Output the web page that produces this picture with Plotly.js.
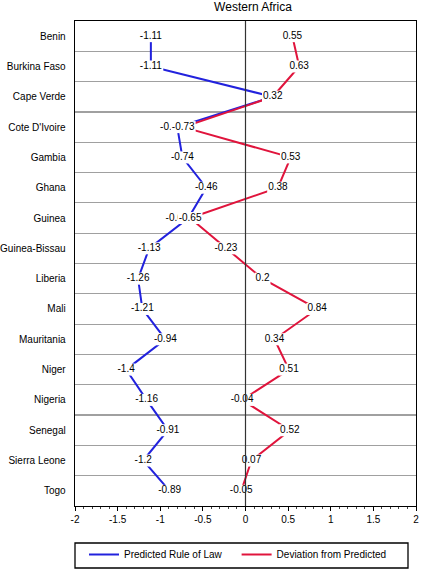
<!DOCTYPE html>
<html>
<head>
<meta charset="utf-8">
<script src="https://cdn.plot.ly/plotly-3.0.1.min.js"></script>
<style>html,body{margin:0;padding:0;background:#fff;}#chart{width:421px;height:571px;}</style>
</head>
<body>
<div id="chart"></div>
<script>
const countries = ["Benin","Burkina Faso","Cape Verde","Cote D'Ivoire","Gambia","Ghana","Guinea","Guinea-Bissau","Liberia","Mali","Mauritania","Niger","Nigeria","Senegal","Sierra Leone","Togo"];
const predicted = [-1.11,-1.11,0.32,-0.8,-0.74,-0.46,-0.67,-1.13,-1.26,-1.21,-0.94,-1.4,-1.16,-0.91,-1.2,-0.89];
const deviation = [0.55,0.63,0.32,-0.73,0.53,0.38,-0.65,-0.23,0.2,0.84,0.34,0.51,-0.04,0.52,0.07,-0.05];
const seriesNames = ["Predicted Rule of Law","Deviation from Predicted"];
const xTicks = [-2,-1.5,-1,-0.5,0,0.5,1,1.5,2];

const BLUE = '#2222dd', RED = '#e0143c';
const FONT = 'Liberation Sans, Arial, sans-serif';
const W = 421, H = 571, ML = 75, MR = 5, MT = 21, MB = 65;
const XR = [-2, 2];
const plotW = W - ML - MR, plotH = H - MT - MB;
const pxPerUnit = plotW / (XR[1] - XR[0]);

function textWidth(s){
  let w = 0;
  for (const c of s){ w += c === '-' ? 3.33 : (c === '.' ? 2.78 : 5.56); }
  return w;
}
// label placement: a predicted label that nearly collides with the deviation label is set to its left
const predPos = predicted.map((v, i) => {
  const d = Math.abs(v - deviation[i]);
  return (d > 0 && d < 0.1) ? 'middle left' : 'middle center';
});
const devPos = deviation.map(() => 'middle center');

// white strips behind value labels so the series lines break around them
function maskTrace(vals, pos){
  const xs = [], ys = [];
  vals.forEach((v, i) => {
    const tw = textWidth(String(v));
    if (pos[i] === 'middle left'){
      xs.push(v - (tw + 1) / pxPerUnit, v + 1 / pxPerUnit, null);
    } else {
      const hw = (tw + 2) / 2 / pxPerUnit;
      xs.push(v - hw, v + hw, null);
    }
    ys.push(countries[i], countries[i], null);
  });
  return {x: xs, y: ys, type:'scatter', mode:'lines', line:{color:'#fff', width:12}, showlegend:false, hoverinfo:'skip', connectgaps:false};
}
function labelTrace(vals, pos){
  return {
    x: vals, y: countries, type:'scatter', mode:'text',
    text: vals.map(v => String(v)), textposition: pos,
    textfont:{family:FONT, size:10, color:'#000'},
    showlegend:false, hoverinfo:'skip', cliponaxis:false
  };
}
const data = [
  {x: predicted, y: countries, type:'scatter', mode:'lines', name: seriesNames[0], line:{color:BLUE, width:2}},
  {x: deviation, y: countries, type:'scatter', mode:'lines', name: seriesNames[1], line:{color:RED, width:2}},
  maskTrace(predicted, predPos), labelTrace(predicted, predPos),
  maskTrace(deviation, devPos), labelTrace(deviation, devPos)
];
// legend frame (paper coordinates below the plot area)
const legBox = {left: 75, right: 408, top: 543, bottom: 568};
const layout = {
  width:W, height:H,
  margin:{l:ML, r:MR, t:MT, b:MB, autoexpand:false},
  paper_bgcolor:'#fff', plot_bgcolor:'#fff',
  font:{family:FONT, size:10, color:'#000'},
  title:{text:'Western Africa', font:{family:FONT, size:12, color:'#000'}, x:0.522, xref:'paper', xanchor:'center', y:0.988, yref:'container', yanchor:'middle'},
  xaxis:{range:XR, tickvals:xTicks, ticktext:xTicks.map(String), ticks:'outside', ticklen:4, tickcolor:'#000', tickwidth:1,
    minor:{dtick:0.1, tick0:0, ticks:'outside', ticklen:2, tickcolor:'#444', showgrid:false},
    showgrid:false, zeroline:false, showline:true, mirror:true, linecolor:'#000', linewidth:1.3,
    tickfont:{family:FONT, size:10, color:'#000'}, fixedrange:true},
  yaxis:{type:'category', categoryorder:'array', categoryarray:countries, range:[15.5,-0.5], tickson:'boundaries',
    ticks:'', showgrid:true, gridcolor:'#a0a0a0', gridwidth:1.2, zeroline:false,
    showline:true, mirror:true, linecolor:'#000', linewidth:1.3, ticklabelstandoff:6,
    tickfont:{family:FONT, size:10, color:'#000'}, fixedrange:true},
  shapes:[
    {type:'line', xref:'x', yref:'paper', x0:0, x1:0, y0:0, y1:1, layer:'above', line:{color:'#333', width:1.2}},
    {type:'rect', xref:'paper', yref:'paper', layer:'above',
      x0:(legBox.left - ML) / plotW, x1:(legBox.right - ML) / plotW,
      y0:-(legBox.top - (H - MB)) / plotH, y1:-(legBox.bottom - (H - MB)) / plotH,
      line:{color:'#000', width:1.3}, fillcolor:'rgba(0,0,0,0)'}
  ],
  legend:{orientation:'h', x:0, xanchor:'left', y:-(540 - (H - MB)) / plotH, yanchor:'top', borderwidth:0, bgcolor:'rgba(0,0,0,0)',
    font:{family:FONT, size:10, color:'#000'}, itemwidth:30, indentation:9},
  showlegend:true
};
Plotly.newPlot('chart', data, layout, {displayModeBar:false, staticPlot:true});
</script>
</body>
</html>
